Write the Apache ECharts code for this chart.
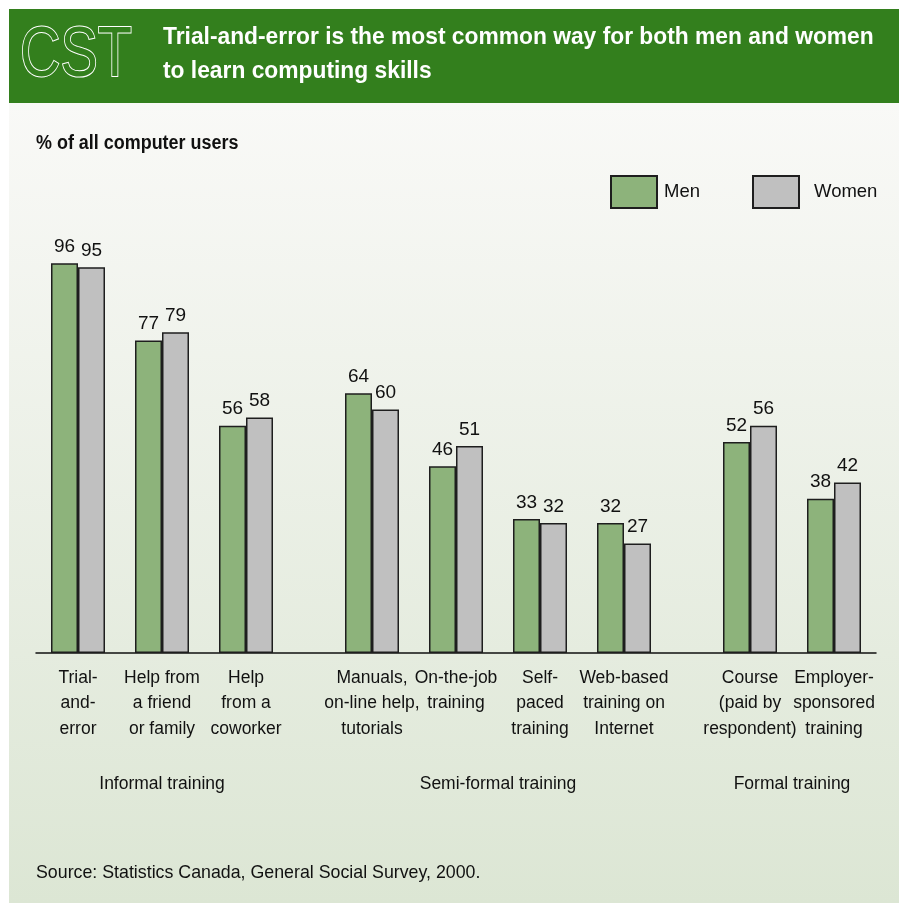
<!DOCTYPE html>
<html>
<head>
<meta charset="utf-8">
<style>
  html, body { margin: 0; padding: 0; background: #ffffff; }
  #chart { width: 899px; height: 903px; }
</style>
<script src="https://cdn.jsdelivr.net/npm/echarts@6/dist/echarts.min.js"></script>
</head>
<body>
<div id="chart"></div>
<script>
// ---- Data ----
const itemLabels = [
  'Trial-\nand-\nerror',
  'Help from\na friend\nor family',
  'Help\nfrom a\ncoworker',
  'Manuals,\non-line help,\ntutorials',
  'On-the-job\ntraining',
  'Self-\npaced\ntraining',
  'Web-based\ntraining on\nInternet',
  'Course\n(paid by\nrespondent)',
  'Employer-\nsponsored\ntraining'
];
const men   = [96, 77, 56, 64, 46, 33, 32, 52, 38];
const women = [95, 79, 58, 60, 51, 32, 27, 56, 42];
const groupNames = ['Informal training', 'Semi-formal training', 'Formal training'];
const groupSizes = [3, 4, 2];
const seriesNames = ['Men', 'Women'];

// ---- Build padded category axis (blank slots between items and groups) ----
const cats = [''];
const menData = [null];
const womenData = [null];
const groupLabelAt = {};
let k = 0;
groupSizes.forEach((n, g) => {
  if (g > 0) { cats.push(''); menData.push(null); womenData.push(null); }
  const first = cats.length;
  for (let i = 0; i < n; i++) {
    cats.push(itemLabels[k]); menData.push(men[k]); womenData.push(women[k]);
    cats.push(''); menData.push(null); womenData.push(null);
    k++;
  }
  const last = cats.length - 2;
  groupLabelAt[Math.round((first + last) / 2)] = groupNames[g];
});
const groupCats = cats.map((c, i) => groupLabelAt[i] || '');

const FONT = '"Liberation Sans", Arial, "Helvetica", sans-serif';
const MEN_COLOR = '#8db37b';
const WOMEN_COLOR = '#c0c0c0';
const EDGE = '#1e1e1e';
const INK = '#111111';

const chart = echarts.init(document.getElementById('chart'), null, { renderer: 'canvas' });

const option = {
  animation: false,
  backgroundColor: '#ffffff',
  textStyle: { fontFamily: FONT },
  graphic: [
    { type: 'rect', z: -10, silent: true,
      shape: { x: 9, y: 103, width: 890, height: 800 },
      style: { fill: new echarts.graphic.LinearGradient(0, 0, 0, 1, [
        { offset: 0, color: '#f9f9f7' },
        { offset: 1, color: '#dce6d4' }
      ]) } },
    { type: 'rect', z: -9, silent: true,
      shape: { x: 9, y: 9, width: 890, height: 94 },
      style: { fill: '#337f1d' } },
    { type: 'text', z: 5, silent: true, x: 20, y: 57, scaleX: 0.8,
      style: { text: 'CST', fill: '#337f1d', stroke: '#ffffff', lineWidth: 2,
        font: '70px ' + FONT, verticalAlign: 'middle' } },
    { type: 'text', z: 5, silent: true, x: 163, y: 37, scaleX: 0.95,
      style: { text: 'Trial-and-error is the most common way for both men and women', fill: '#ffffff',
        font: 'bold 24px ' + FONT, verticalAlign: 'middle' } },
    { type: 'text', z: 5, silent: true, x: 163, y: 71, scaleX: 0.95,
      style: { text: 'to learn computing skills', fill: '#ffffff',
        font: 'bold 24px ' + FONT, verticalAlign: 'middle' } },
    { type: 'text', z: 5, silent: true, x: 36, y: 144, scaleX: 0.92,
      style: { text: '% of all computer users', fill: INK,
        font: 'bold 19.5px ' + FONT, verticalAlign: 'middle' } },
    { type: 'text', z: 5, silent: true, x: 36, y: 873,
      style: { text: 'Source: Statistics Canada, General Social Survey, 2000.', fill: INK,
        font: '17.8px ' + FONT, verticalAlign: 'middle' } }
  ],
  legend: [
    { data: [seriesNames[0]], left: 605, top: 170, itemWidth: 46, itemHeight: 32, itemGap: 0,
      textStyle: { fontFamily: FONT, fontSize: 18.5, color: INK, padding: [0, 0, 0, 2] }, selectedMode: false, icon: 'rect' },
    { data: [seriesNames[1]], left: 747, top: 170, itemWidth: 46, itemHeight: 32, itemGap: 0,
      textStyle: { fontFamily: FONT, fontSize: 18.5, color: INK, padding: [0, 0, 0, 10] }, selectedMode: false, icon: 'rect' }
  ],
  grid: { left: 36, right: 23, top: 247, bottom: 250, containLabel: false },
  xAxis: [
    { type: 'category', data: cats, boundaryGap: false,
      axisLine: { show: true, lineStyle: { color: INK, width: 1.5 } },
      axisTick: { show: false },
      axisLabel: { interval: 0, margin: 12, fontFamily: FONT, fontSize: 17.5, lineHeight: 25.5,
        color: INK, align: 'center', hideOverlap: false } },
    { type: 'category', data: groupCats, boundaryGap: false, position: 'bottom',
      axisLine: { show: false }, axisTick: { show: false },
      axisLabel: { interval: 0, margin: 122, fontFamily: FONT, fontSize: 17.5, color: INK, hideOverlap: false } }
  ],
  yAxis: { type: 'value', min: 0, max: 100, show: false, splitLine: { show: false } },
  series: [
    { name: seriesNames[0], type: 'bar', data: menData, barWidth: 27, barGap: '0%',
      itemStyle: { color: MEN_COLOR, borderColor: EDGE, borderWidth: 1.5 },
      label: { show: true, position: 'top', distance: 7, fontFamily: FONT, fontSize: 19, color: INK } },
    { name: seriesNames[1], type: 'bar', data: womenData, barWidth: 27, barGap: '0%',
      itemStyle: { color: WOMEN_COLOR, borderColor: EDGE, borderWidth: 1.5 },
      label: { show: true, position: 'top', distance: 7, fontFamily: FONT, fontSize: 19, color: INK } }
  ]
};
chart.setOption(option);
</script>
</body>
</html>
